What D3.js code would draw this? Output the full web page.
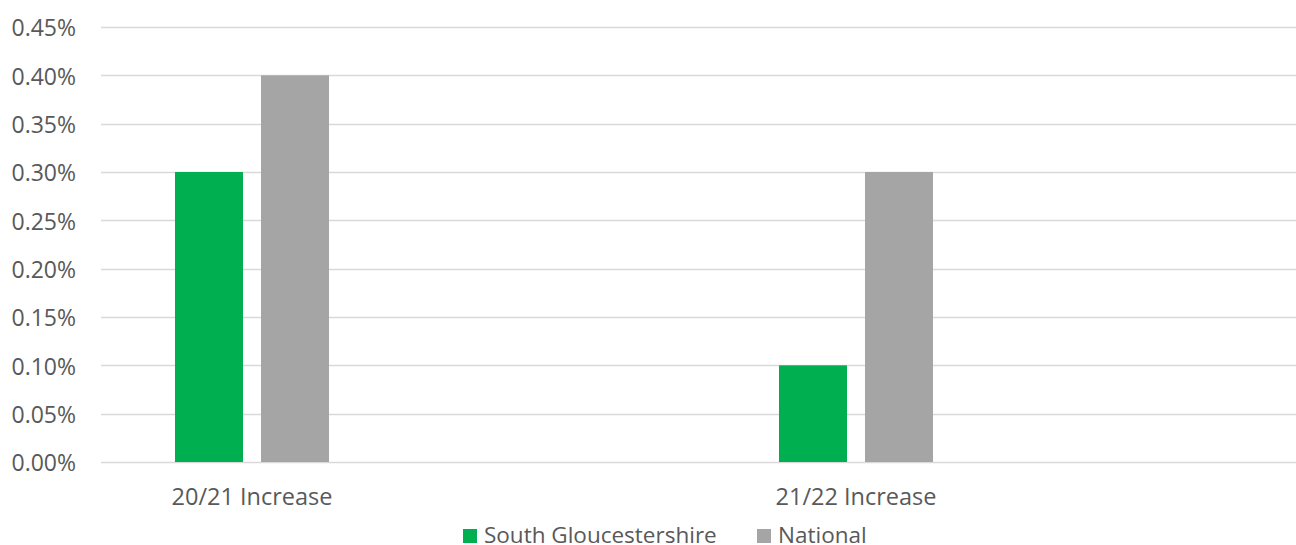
<!DOCTYPE html>
<html><head><meta charset="utf-8">
<script src="https://cdn.jsdelivr.net/npm/d3@7"></script>
<style>body{margin:0;background:#fff;}svg{display:block;}</style>
</head><body>
<svg id="chart" width="1296" height="545"></svg>
<script>
const categories = ["20/21 Increase", "", "21/22 Increase", ""];
const seriesNames = ["South Gloucestershire", "National"];
const southGlos = [0.30, null, 0.10, null];
const national = [0.40, null, 0.30, null];
const yTicks = [0, 0.05, 0.10, 0.15, 0.20, 0.25, 0.30, 0.35, 0.40, 0.45];
const colors = ["#00b050", "#a5a5a5"];

(function () {
const svg = d3.select("#chart");
const font = "'Open Sans', sans-serif";
const mLeft = 101, mRight = 1309, mTop = 27, mBottom = 462;

const y = d3.scaleLinear().domain([0, 0.45]).range([mBottom, mTop]);
const x0 = d3.scaleBand().domain(categories.map((c, i) => i)).range([mLeft, mRight]);
const bw = x0.bandwidth();
const x1 = d3.scaleBand().domain(seriesNames).range([bw * 0.245, bw * 0.755]).paddingInner(0.2093);

// gridlines
svg.append("g").selectAll("line").data(yTicks).join("line")
  .attr("x1", mLeft).attr("x2", mRight)
  .attr("y1", d => Math.round(y(d)) + 0.5).attr("y2", d => Math.round(y(d)) + 0.5)
  .attr("stroke", "#d9d9d9").attr("stroke-width", 1.3);

// y labels
const yAxis = d3.axisLeft(y).tickValues(yTicks).tickFormat(d => d.toFixed(2) + "%").tickSize(0).tickPadding(0);
const ya = svg.append("g").attr("transform", `translate(76,0)`).call(yAxis);
ya.select(".domain").remove();
ya.selectAll("text").attr("font-family", font).attr("font-size", 23).attr("fill", "#595959").attr("dy", "0.38em");

// bars
const data = [southGlos, national];
const groups = svg.append("g").selectAll("g").data(categories.map((c, i) => i)).join("g")
  .attr("transform", i => `translate(${x0(i)},0)`);
groups.selectAll("rect").data(i => seriesNames.map((s, k) => ({s, k, v: data[k][i]})).filter(d => d.v != null))
  .join("rect")
  .attr("x", d => x1(d.s)).attr("width", x1.bandwidth())
  .attr("y", d => y(d.v)).attr("height", d => y(0) - y(d.v))
  .attr("fill", d => colors[d.k]);

// x labels
const xAxis = d3.axisBottom(x0).tickFormat(i => categories[i]).tickSize(0).tickPadding(0);
const xa = svg.append("g").attr("transform", `translate(0,505)`).call(xAxis);
xa.select(".domain").remove();
xa.selectAll("text").attr("font-family", font).attr("font-size", 23.5).attr("fill", "#595959").attr("dy", "0");

// legend
const legendX = [463, 757];
const lg = svg.append("g").selectAll("g").data(seriesNames).join("g")
  .attr("transform", (d, k) => `translate(${legendX[k]},529)`);
lg.append("rect").attr("width", 14).attr("height", 14).attr("fill", (d, k) => colors[k]);
lg.append("text").attr("x", 21).attr("y", 14)
  .attr("font-family", font).attr("font-size", 22.5).attr("fill", "#595959").text(d => d);
})();
</script>
</body></html>
